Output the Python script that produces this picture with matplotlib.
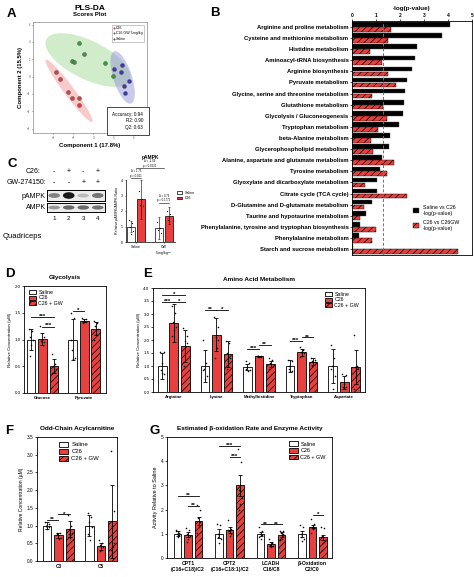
import numpy as np
import matplotlib.pyplot as plt
from matplotlib.patches import Patch, Ellipse

plt.rcParams['font.family'] = ['Liberation Sans', 'DejaVu Sans']
plt.rcParams['hatch.linewidth'] = 0.5
plt.rcParams['axes.linewidth'] = 0.6
plt.rcParams['xtick.major.width'] = 0.5
plt.rcParams['ytick.major.width'] = 0.5
plt.rcParams['xtick.major.size'] = 1.5
plt.rcParams['ytick.major.size'] = 1.5
plt.rcParams['xtick.major.pad'] = 1
plt.rcParams['ytick.major.pad'] = 1

W, H = 474, 577
RED = '#e8403f'
HATCH = '/////'

# ---------------- data ----------------
# A: PLS-DA scores
pls_c26_x = [-5.6, -4.95, -3.75, -3.15, -2.1, -2.2]
pls_c26_y = [0.53, -0.27, -1.79, -2.51, -2.48, -3.28]
pls_gw_x = [-2.15, -1.4, -3.15, -2.95, 1.8, 3.0]
pls_gw_y = [3.85, 2.63, 1.75, 1.68, 1.56, 0.04]
pls_sal_x = [4.3, 3.15, 4.05, 5.35, 4.6, 4.75]
pls_sal_y = [1.37, 0.88, 0.57, -0.5, -1.07, -1.83]

# B: pathway enrichment
path_names = ["Arginine and proline metabolism", "Cysteine and methionine metabolism",
              "Histidine metabolism", "Aminoacyl-tRNA biosynthesis", "Arginine biosynthesis",
              "Pyruvate metabolism", "Glycine, serine and threonine metabolism",
              "Glutathione metabolism", "Glycolysis / Gluconeogenesis", "Tryptophan metabolism",
              "beta-Alanine metabolism", "Glycerophospholipid metabolism",
              "Alanine, aspartate and glutamate metabolism", "Tyrosine metabolism",
              "Glyoxylate and dicarboxylate metabolism", "Citrate cycle (TCA cycle)",
              "D-Glutamine and D-glutamate metabolism", "Taurine and hypotaurine metabolism",
              "Phenylalanine, tyrosine and tryptophan biosynthesis", "Phenylalanine metabolism",
              "Starch and sucrose metabolism"]
sal_vs_c26 = [4.09, 3.74, 2.71, 2.64, 2.51, 2.28, 2.19, 2.18, 2.12, 1.95, 1.59, 1.54,
              1.26, 1.18, 1.04, 1.03, 0.83, 0.58, 0.34, 0.28, 0.04]
c26_vs_gw = [1.63, 1.5, 0.76, 1.26, 1.49, 1.85, 0.83, 1.29, 1.47, 1.08, 0.8, 0.88,
             1.74, 1.45, 0.53, 2.28, 0.52, 0.32, 0.98, 0.84, 4.42]
p_cut = 0.05

# C: western blot + quantification
c26_signs = ['-', '+', '-', '+']
gw_signs = ['-', '-', '+', '+']
pampk_band = [0.55, 1.0, 0.3, 0.6]
ampk_band = [0.45, 0.65, 0.65, 0.6]
c_groups = ['Saline', 'GW\n5 mg/kg$^{-1}$']
c_saline = [1.0, 0.9]
c_c26 = [2.75, 1.7]
c_saline_err = [0.35, 0.7]
c_c26_err = [1.25, 0.55]
c_saline_pts = [[1.4, 1.2, 1.0, 0.7, 0.5], [1.3, 0.9, 0.8, 0.6]]
c_c26_pts = [[3.3, 2.8, 2.4, 2.3], [2.0, 1.8, 1.4]]

# D: glycolysis
d_groups = ['Glucose', 'Pyruvate']
d_saline = [1.0, 1.0]
d_c26 = [1.01, 1.35]
d_gw = [0.5, 1.2]
d_saline_err = [0.2, 0.38]
d_c26_err = [0.12, 0.03]
d_gw_err = [0.13, 0.12]
d_saline_pts = [[1.2, 1.15, 1.05, 1.0, 0.9, 0.7], [1.5, 1.4, 0.8, 0.65, 0.63, 1.0]]
d_c26_pts = [[1.25, 1.05, 1.0, 0.95, 0.9, 0.98], [1.4, 1.38, 1.35, 1.33, 1.32, 1.3]]
d_gw_pts = [[0.72, 0.55, 0.5, 0.45, 0.4, 0.38], [1.35, 1.3, 1.25, 1.2, 1.1, 1.0]]
d_sigs = [(0, -1, 1, 1.42, '***'), (0, 0, 1, 1.24, '***'), (1, -1, 0, 1.53, '*')]

# E: amino acids
e_groups = ['Arginine', 'Lysine', 'Methylhistidine', 'Tryptophan', 'Aspartate']
e_saline = [1.0, 1.0, 0.97, 1.0, 1.0]
e_c26 = [2.65, 2.21, 1.37, 1.52, 0.37]
e_gw = [1.78, 1.46, 1.09, 1.17, 0.96]
e_saline_err = [0.5, 0.6, 0.12, 0.22, 0.65]
e_c26_err = [0.73, 0.63, 0.03, 0.12, 0.25]
e_gw_err = [0.62, 0.5, 0.12, 0.12, 0.66]
e_saline_pts = [[1.55, 1.55, 1.1, 0.7, 0.75, 0.85], [2.0, 1.1, 0.9, 0.6, 0.5, 0.85],
                [1.2, 1.1, 0.95, 0.85, 0.8, 0.9], [1.25, 1.2, 0.9, 0.8, 0.8, 1.0],
                [1.8, 1.3, 1.0, 0.6, 0.1, 0.9]]
e_c26_pts = [[3.3, 3.05, 2.7, 2.5, 2.4, 2.15], [2.9, 2.5, 2.1, 2.0, 1.7, 1.3],
             [1.4, 1.38, 1.37, 1.35, 1.36, 1.39], [1.75, 1.6, 1.55, 1.5, 1.4, 1.35],
             [0.7, 0.65, 0.3, 0.2, 0.15, 0.2]]
e_gw_pts = [[2.45, 2.15, 1.95, 1.9, 1.5, 1.0], [1.95, 1.9, 1.5, 1.3, 1.2, 0.9],
            [1.3, 1.25, 1.1, 1.0, 0.95, 0.9], [1.3, 1.25, 1.2, 1.15, 1.05, 1.0],
            [2.2, 1.0, 0.95, 0.9, 0.6, 0.1]]
e_sigs = [(0, -1, 0, 3.45, '***'), (0, 0, 1, 3.45, '*'), (0, -1, 1, 3.75, '*'),
          (1, -1, 0, 3.15, '**'), (1, 0, 1, 3.15, '*'), (2, -1, 0, 1.65, '***'),
          (2, 0, 1, 1.8, '**'), (3, -1, 0, 1.95, '***'), (3, 0, 1, 2.1, '**')]

# F: odd-chain acylcarnitine
f_groups = ['C3', 'C5']
f_saline = [1.0, 1.0]
f_c26 = [0.72, 0.42]
f_gw = [0.9, 1.12]
f_saline_err = [0.1, 0.3]
f_c26_err = [0.08, 0.1]
f_gw_err = [0.22, 1.03]
f_saline_pts = [[1.1, 1.05, 1.0, 0.95, 0.9, 0.98], [1.35, 1.25, 1.1, 0.95, 0.6, 0.75]]
f_c26_pts = [[0.8, 0.78, 0.72, 0.65, 0.62, 0.75], [0.6, 0.5, 0.45, 0.4, 0.3, 0.28]]
f_gw_pts = [[1.3, 1.0, 0.9, 0.8, 0.65, 0.75], [3.1, 1.4, 1.0, 0.5, 0.4, 0.3]]
f_sigs = [(0, -1, 0, 1.17, '**'), (0, 0, 1, 1.32, '*')]

# G: beta-oxidation
g_groups = ['CPT1\n(C16+C18)/C2', 'CPT2\n(C16+C18:1)/C2', 'LCADH\nC16/C8', 'β-Oxidation\nC2/C0']
g_saline = [1.0, 1.0, 1.0, 1.0]
g_c26 = [0.96, 1.16, 0.57, 1.3]
g_gw = [1.53, 3.01, 0.97, 0.85]
g_saline_err = [0.1, 0.18, 0.08, 0.12]
g_c26_err = [0.1, 0.12, 0.08, 0.08]
g_gw_err = [0.17, 0.44, 0.1, 0.12]
g_saline_pts = [[1.16, 1.05, 1.0, 0.95, 0.85, 1.1], [1.4, 1.35, 1.0, 0.8, 0.6, 0.85],
                [1.3, 1.1, 1.0, 0.95, 0.8, 0.85], [1.35, 1.3, 1.0, 0.8, 0.7, 0.85]]
g_c26_pts = [[1.22, 1.15, 1.0, 0.9, 0.8, 0.65], [1.55, 1.2, 1.1, 1.0, 0.9, 1.15],
             [0.8, 0.6, 0.55, 0.5, 0.45, 0.5], [1.6, 1.4, 1.3, 1.25, 1.2, 1.05]]
g_gw_pts = [[2.2, 2.0, 1.65, 1.5, 1.3, 1.05], [4.5, 3.95, 2.8, 2.5, 2.25, 2.0],
            [1.1, 1.1, 1.05, 1.0, 0.8, 0.75], [1.3, 1.25, 0.9, 0.7, 0.6, 0.35]]
g_sigs = [(0, -1, 1, 2.56, '**'), (0, 0, 1, 2.15, '**'), (1, -1, 1, 4.63, '***'),
          (1, 0, 1, 4.18, '***'), (2, -1, 0, 1.4, '**'), (2, 0, 1, 1.4, '**'),
          (3, 0, 1, 1.78, '*')]

jitter = np.array([-0.22, 0.18, -0.08, 0.24, 0.02, -0.16])


def box(x0, y0, x1, y1):
    # pixel box -> figure fraction
    return [x0 / W, 1 - y1 / H, (x1 - x0) / W, (y1 - y0) / H]


def ftext(x, y, s, **kw):
    fig.text(x / W, 1 - y / H, s, **kw)


def legend_handles():
    return [Patch(facecolor='white', edgecolor='k', lw=0.6, label='Saline'),
            Patch(facecolor=RED, edgecolor='k', lw=0.6, label='C26'),
            Patch(facecolor=RED, edgecolor='k', lw=0.6, hatch=HATCH, label='C26 + GW')]


def bar_panel(ax, gap, means, errs, pts, sigs, labels, width=0.75, fs=3.2):
    centers = np.arange(len(labels)) * gap
    styles = [dict(facecolor='white'), dict(facecolor=RED), dict(facecolor=RED, hatch=HATCH)]
    for k in range(3):
        xs = centers + (k - 1)
        ax.bar(xs, means[k], width, edgecolor='k', linewidth=0.6, zorder=2, **styles[k])
        ax.errorbar(xs, means[k], yerr=errs[k], fmt='none', ecolor='k', elinewidth=0.6,
                    capsize=1.3, capthick=0.6, zorder=3)
        for x, p in zip(xs, pts[k]):
            ax.scatter(x + jitter[:len(p)] * width, p, s=1.3, color='k', linewidths=0, zorder=4)
    for g, i, j, y, s in sigs:
        ax.plot([centers[g] + i, centers[g] + j], [y, y], color='k', lw=0.6, zorder=5)
        ax.text(centers[g] + (i + j) / 2, y - 0.02 * ax.get_ylim()[1], s, ha='center', va='bottom',
                fontsize=4.5, fontweight='bold')
    ax.set_xticks(centers)
    ax.set_xticklabels(labels, fontsize=fs + 0.6, fontweight='bold')
    ax.tick_params(labelsize=fs)
    ax.tick_params(axis='x', length=0, pad=2)


fig = plt.figure(figsize=(W / 100, H / 100), dpi=100)

# panel letters
for letter, x, y in [('A', 7, 14), ('B', 210, 13), ('C', 7, 164), ('D', 5, 274),
                     ('E', 143, 274), ('F', 5, 431), ('G', 150, 431)]:
    ftext(x, y, letter, fontsize=9.5, fontweight='bold', ha='left', va='center')

# ---------------- A: PLS-DA ----------------
axA = fig.add_axes(box(33, 22, 147, 133))
groups_a = [(pls_c26_x, pls_c26_y, '#f08a8a', '#d9403f', 'C26'),
            (pls_gw_x, pls_gw_y, '#9ad68a', '#3c9a3c', 'C26 GW 5mg/kg'),
            (pls_sal_x, pls_sal_y, '#8a8ad6', '#3a3aa8', 'Saline')]
for gx, gy, fill, col, lab in groups_a:
    cov = np.cov(gx, gy)
    vals, vecs = np.linalg.eigh(cov)
    order = vals.argsort()[::-1]
    vals, vecs = vals[order], vecs[:, order]
    ang = np.degrees(np.arctan2(vecs[1, 0], vecs[0, 0]))
    wd, ht = 2 * np.sqrt(vals * 5.991)
    axA.add_patch(Ellipse((np.mean(gx), np.mean(gy)), wd, ht, angle=ang,
                          facecolor=fill, alpha=0.45, edgecolor='none', zorder=1))
for gx, gy, fill, col, lab in groups_a:
    axA.scatter(gx, gy, s=8, color=col, edgecolors='#444444', linewidths=0.3, zorder=3, label=lab)
axA.set_xlim(-9, 8)
axA.set_ylim(-6.5, 6.3)
axA.set_xticks([-6, -3, 0, 3, 6])
axA.set_yticks([-6, -4, -2, 0, 2, 4, 6])
axA.tick_params(labelsize=2, length=1, colors='#555555')
for sp in axA.spines.values():
    sp.set_color('#888888')
    sp.set_linewidth(0.5)
axA.set_xlabel('Component 1 (17.8%)', fontsize=4.3, fontweight='bold', labelpad=2)
axA.set_ylabel('Component 2 (15.5%)', fontsize=4.3, fontweight='bold', labelpad=3)
axA.set_title('PLS-DA', fontsize=6, fontweight='bold', pad=9)
ftext(90, 15, 'Scores Plot', fontsize=4.3, fontweight='bold', ha='center', va='center')
leg = axA.legend(loc='upper right', fontsize=2.6, markerscale=0.35, handletextpad=0.2,
                 borderpad=0.4, labelspacing=0.3, handlelength=0.6, fancybox=False,
                 edgecolor='#888888', bbox_to_anchor=(0.99, 0.99))
leg.get_frame().set_linewidth(0.4)
axA.text(0.965, 0.03, 'Accuracy: 0.94\nR2: 0.90\nQ2: 0.63', transform=axA.transAxes,
         fontsize=3.3, ha='right', va='bottom', linespacing=1.3,
         bbox=dict(facecolor='white', edgecolor='k', lw=0.5, pad=1.2, boxstyle='square'))

# ---------------- B: pathways ----------------
axB = fig.add_axes(box(352, 21, 472, 255))
yy = np.arange(len(path_names))
axB.barh(yy - 0.22, sal_vs_c26, 0.42, color='k', edgecolor='#555555', lw=0.3,
         label='Saline vs C26\n-log(p-value)')
axB.barh(yy + 0.22, c26_vs_gw, 0.42, color=RED, edgecolor='k', lw=0.3, hatch=HATCH,
         label='C26 vs C26GW\n-log(p-value)')
axB.axvline(-np.log10(p_cut), color=RED, ls=(0, (3, 2)), lw=0.7)
axB.set_xlim(0, 5)
axB.set_ylim(len(path_names) - 0.46, -0.54)
axB.set_yticks(yy)
axB.set_yticklabels(path_names, fontsize=4.2, fontweight='bold')
axB.xaxis.tick_top()
axB.xaxis.set_label_position('top')
axB.set_xticks(range(6))
axB.tick_params(axis='x', labelsize=3.5, pad=0.8)
for t in axB.get_xticklabels():
    t.set_fontweight('bold')
axB.set_xlabel('-log(p-value)', fontsize=4.5, fontweight='bold', labelpad=2)
axB.legend(loc='upper left', bbox_to_anchor=(0.47, 0.235), fontsize=3.8, frameon=False,
           handlelength=1.2, handleheight=1.0, labelspacing=0.8, handletextpad=0.6)

# ---------------- C: western blot ----------------
lanes = np.arange(1, 5)
ax_p = fig.add_axes(box(47, 190, 105, 201))
ax_a = fig.add_axes(box(47, 203, 105, 212))
for axb, band in [(ax_p, pampk_band), (ax_a, ampk_band)]:
    axb.set_facecolor('#ececec')
    axb.set_xlim(0.5, 4.5)
    axb.set_ylim(0, 1)
    axb.set_xticks([])
    axb.set_yticks([])
    for sp in axb.spines.values():
        sp.set_linewidth(0.7)
    for x, v in zip(lanes, band):
        g = 1 - 0.9 * v
        axb.add_patch(Ellipse((x, 0.5), 0.8, 0.25 + 0.35 * v, facecolor=(g, g, g), edgecolor='none'))
for x, s1, s2 in zip(lanes, c26_signs, gw_signs):
    ax_p.text(x, 2.65, s1, ha='center', va='center', fontsize=5, clip_on=False)
    ax_p.text(x, 1.65, s2, ha='center', va='center', fontsize=5, clip_on=False)
    ax_a.text(x, -0.7, str(x), ha='center', va='center', fontsize=4.5, clip_on=False)
ftext(41, 172, 'C26:', fontsize=5, ha='right', va='center')
ftext(46, 183, 'GW-274150:', fontsize=5, ha='right', va='center')
ftext(46, 196, 'pAMPK', fontsize=5, ha='right', va='center')
ftext(46, 207, 'AMPK', fontsize=5, ha='right', va='center')
ftext(3, 236, 'Quadriceps', fontsize=5.5, ha='left', va='center')

# C quantification
axC = fig.add_axes(box(126, 180, 175, 242))
cx = np.array([0, 2.8])
axC.bar(cx, c_saline, 0.8, facecolor='white', edgecolor='k', lw=0.5, zorder=2, label='Saline')
axC.bar(cx + 1, c_c26, 0.8, facecolor=RED, edgecolor='k', lw=0.5, zorder=2, label='C26')
axC.errorbar(cx, c_saline, yerr=c_saline_err, fmt='none', ecolor='k', elinewidth=0.4, capsize=1, capthick=0.4, zorder=3)
axC.errorbar(cx + 1, c_c26, yerr=c_c26_err, fmt='none', ecolor='k', elinewidth=0.4, capsize=1, capthick=0.4, zorder=3)
for xs, ptsl in [(cx, c_saline_pts), (cx + 1, c_c26_pts)]:
    for x, p in zip(xs, ptsl):
        axC.scatter(x + jitter[:len(p)] * 0.8, p, s=0.8, color='k', linewidths=0, zorder=4)
axC.set_xlim(-0.5, 4.4)
axC.set_ylim(0, 4)
axC.set_yticks(range(5))
axC.set_xticks(cx + 0.5)
axC.set_xticklabels(c_groups, fontsize=2.5)
axC.tick_params(labelsize=2.5, length=1, width=0.4)
axC.spines[['top', 'right']].set_visible(False)
for sp in axC.spines.values():
    sp.set_linewidth(0.5)
axC.set_ylabel('Relative pAMPK/AMPK Ratio', fontsize=2.6, labelpad=1.5)
axC.legend(loc='upper left', bbox_to_anchor=(0.98, 0.88), fontsize=2.6, frameon=False,
           handlelength=1.2, handleheight=0.7, labelspacing=0.4)
for x1, x2, y, s in [(0, 1, 4.1, 'Δ = 1.75\np = 0.011'), (2.8, 3.8, 2.5, 'Δ = 0.79\np = 0.1772'),
                     (0.5, 3.3, 4.75, 'Δ = -1.09\np = 0.0631')]:
    axC.plot([x1, x2], [y, y], color='k', lw=0.4, clip_on=False)
    axC.text((x1 + x2) / 2, y + 0.05, s, fontsize=2, ha='center', va='bottom', clip_on=False, linespacing=1.1)
ftext(150, 158, 'pAMPK', fontsize=3.5, fontweight='bold', ha='center', va='center')

# ---------------- D: glycolysis ----------------
axD = fig.add_axes(box(24, 286, 106, 393))
bar_panel(axD, 3.65, [d_saline, d_c26, d_gw], [d_saline_err, d_c26_err, d_gw_err],
          [d_saline_pts, d_c26_pts, d_gw_pts], d_sigs, d_groups)
axD.set_ylim(0, 2.0)
axD.set_xlim(-1.6, 5.55)
axD.set_yticks(np.arange(0, 2.01, 0.5))
axD.set_yticklabels(['%.1f' % v for v in np.arange(0, 2.01, 0.5)])
axD.set_ylabel('Relative Concentration (µM)', fontsize=3.2, labelpad=2)
axD.set_title('Glycolysis', fontsize=4.6, fontweight='bold', pad=5)
axD.legend(handles=legend_handles(), loc='upper left', fontsize=3.8, frameon=False,
           handlelength=1.3, handleheight=0.8, labelspacing=0.15, borderpad=0.2,
           handletextpad=0.4, bbox_to_anchor=(0.02, 1.0))

# ---------------- E: amino acids ----------------
axE = fig.add_axes(box(153, 288, 365, 392))
bar_panel(axE, 3.7, [e_saline, e_c26, e_gw], [e_saline_err, e_c26_err, e_gw_err],
          [e_saline_pts, e_c26_pts, e_gw_pts], e_sigs, e_groups)
axE.set_ylim(0, 4.0)
axE.set_xlim(-1.8, 16.6)
axE.set_yticks(np.arange(0, 4.01, 0.5))
axE.set_yticklabels(['%.1f' % v for v in np.arange(0, 4.01, 0.5)])
axE.set_ylabel('Relative Concentration (µM)', fontsize=3.2, labelpad=2)
axE.set_title('Amino Acid Metabolism', fontsize=4.6, fontweight='bold', pad=5)
axE.legend(handles=legend_handles(), loc='upper right', fontsize=3.8, frameon=False,
           handlelength=1.3, handleheight=0.8, labelspacing=0.15, borderpad=0.2,
           handletextpad=0.4, bbox_to_anchor=(0.99, 1.0))

# ---------------- F: acylcarnitine ----------------
axF = fig.add_axes(box(37, 437, 117, 561))
bar_panel(axF, 3.7, [f_saline, f_c26, f_gw], [f_saline_err, f_c26_err, f_gw_err],
          [f_saline_pts, f_c26_pts, f_gw_pts], f_sigs, f_groups, fs=3.4)
axF.set_ylim(0, 3.5)
axF.set_xlim(-1.87, 5.1)
axF.set_yticks(np.arange(0, 3.51, 0.5))
axF.set_yticklabels(['%.1f' % v for v in np.arange(0, 3.51, 0.5)])
axF.set_ylabel('Relative Concentration (µM)', fontsize=3.6, labelpad=2)
axF.set_title('Odd-Chain Acylcarnitine', fontsize=4.6, fontweight='bold', pad=5)
axF.legend(handles=legend_handles(), loc='upper left', fontsize=4.3, frameon=False,
           handlelength=1.5, handleheight=0.9, labelspacing=0.25, borderpad=0.3,
           handletextpad=0.5, bbox_to_anchor=(0.22, 1.0))

# ---------------- G: beta-oxidation ----------------
axG = fig.add_axes(box(167, 437, 332, 558))
bar_panel(axG, 3.95, [g_saline, g_c26, g_gw], [g_saline_err, g_c26_err, g_gw_err],
          [g_saline_pts, g_c26_pts, g_gw_pts], g_sigs, g_groups, fs=3.4)
for t in axG.get_xticklabels():
    t.set_fontsize(3.7)
axG.set_ylim(0, 5)
axG.set_xlim(-2.0, 13.7)
axG.set_yticks(range(6))
axG.set_ylabel('Activity Relative to Saline', fontsize=4, labelpad=2)
axG.set_title('Estimated β-oxidation Rate and Enzyme Activity', fontsize=4.6, fontweight='bold', pad=5)
axG.legend(handles=legend_handles(), loc='upper right', fontsize=4, frameon=False,
           handlelength=1.5, handleheight=0.9, labelspacing=0.25, borderpad=0.3,
           handletextpad=0.5, bbox_to_anchor=(0.99, 1.0))

fig.savefig('out.png', dpi=100)
